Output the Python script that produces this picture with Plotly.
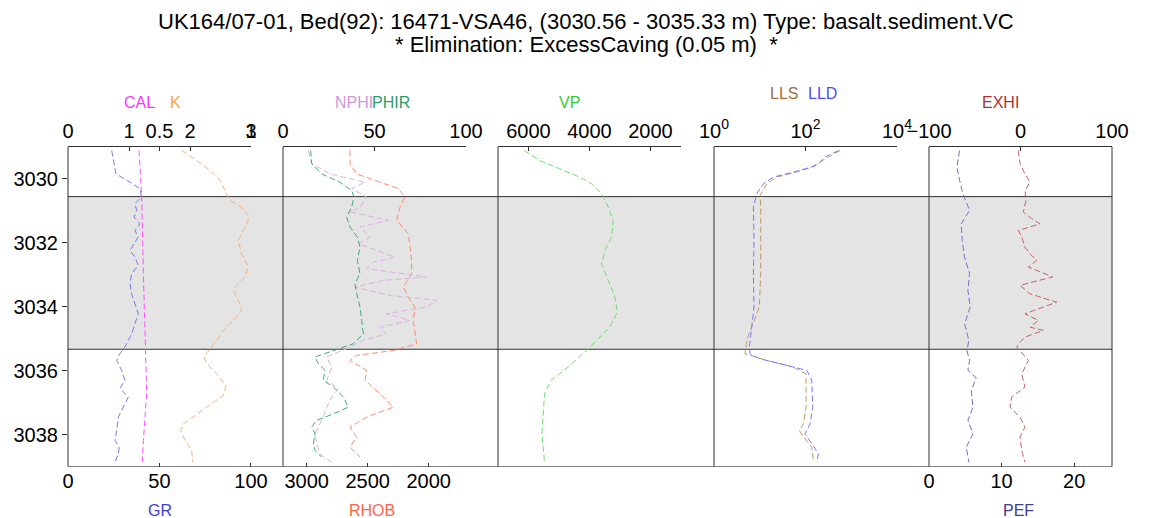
import plotly.graph_objects as go

W, H = 1173, 518


def px(x):
    return x / W


def py(y):
    return 1 - y / H


# ---------------- data (depth in m) ----------------
depth_gr = [3029.12, 3029.85, 3030.11, 3030.31, 3030.57, 3030.78, 3030.99, 3031.2, 3031.41, 3031.62,
            3031.82, 3032.03, 3032.24, 3032.45, 3032.71, 3032.97, 3033.28, 3033.6, 3033.91, 3034.22,
            3034.53, 3034.85, 3035.26, 3035.47, 3035.68, 3035.99, 3036.3, 3036.56, 3036.82, 3037.03,
            3037.45, 3037.87, 3038.18, 3038.39, 3038.6, 3038.86]
gr = [23.9, 26.2, 33.9, 39.3, 40.2, 36.6, 37.5, 36.1, 39.3, 36.6,
      38.4, 36.1, 33.9, 36.6, 38.4, 34.8, 33.9, 34.8, 36.6, 38.4,
      36.6, 34.8, 31.1, 28.4, 26.6, 29.3, 31.1, 28.4, 33.0, 31.1,
      27.5, 26.6, 25.7, 28.0, 27.5, 25.7]

depth_cal = [3029.12, 3030.57, 3032.97, 3035.05, 3036.7, 3038.18, 3038.86]
cal = [0.388, 0.403, 0.412, 0.421, 0.43, 0.412, 0.406]

depth_k = [3029.12, 3029.43, 3029.74, 3030.05, 3030.37, 3030.68, 3030.89, 3031.2, 3031.51, 3031.93,
           3032.35, 3032.76, 3033.07, 3033.39, 3033.6, 3033.91, 3034.12, 3034.43, 3034.74, 3035.05,
           3035.31, 3035.57, 3035.78, 3036.1, 3036.46, 3036.77, 3037.03, 3037.35, 3037.66, 3037.87,
           3038.18, 3038.49, 3038.86]
k = [1.863, 2.109, 2.328, 2.492, 2.574, 2.656, 2.847, 2.973, 2.902, 2.792,
     2.847, 2.956, 2.902, 2.738, 2.738, 2.82, 2.847, 2.71, 2.546, 2.437,
     2.328, 2.23, 2.273, 2.437, 2.59, 2.546, 2.355, 2.109, 1.891, 1.847,
     1.918, 2.027, 2.044]

depth_phir = [3029.12, 3029.53, 3029.85, 3030.11, 3030.37, 3030.57, 3030.89, 3031.2, 3031.51, 3031.82,
              3032.14, 3032.55, 3032.97, 3033.28, 3033.6, 3034.01, 3034.43, 3034.85, 3035.16, 3035.37,
              3035.57, 3035.78, 3035.99, 3036.3, 3036.51, 3036.82, 3037.14, 3037.35, 3037.55, 3037.76,
              3037.97, 3038.28, 3038.49, 3038.7]
phir = [15.1, 15.7, 21.1, 31.1, 37.5, 38.8, 37.5, 34.8, 36.6, 40.6,
        42.1, 40.6, 42.1, 39.3, 40.3, 42.1, 43.0, 43.9, 38.4, 27.5,
        17.5, 19.3, 23.0, 22.0, 27.5, 33.0, 35.7, 27.5, 18.4, 15.7,
        17.5, 16.6, 17.5, 21.1]

depth_nphi = [3029.12, 3029.53, 3029.85, 3030.11, 3030.31, 3030.57, 3030.89, 3031.04, 3031.3, 3031.51,
              3031.82, 3032.03, 3032.45, 3032.61, 3032.81, 3033.07, 3033.18, 3033.39, 3033.65, 3033.8,
              3034.01, 3034.22, 3034.43, 3034.64, 3034.85, 3035.05, 3035.31, 3035.57, 3035.89, 3036.3,
              3036.56, 3036.82, 3037.14, 3037.45, 3037.76, 3037.97, 3038.28, 3038.6, 3038.86]
nphi = [13.8, 15.7, 25.7, 44.8, 37.5, 45.7, 42.1, 36.6, 57.6, 42.1,
        47.5, 41.2, 61.2, 49.4, 45.7, 78.5, 54.8, 39.3, 58.5, 84.0,
        78.5, 56.6, 69.4, 53.0, 56.6, 43.9, 34.8, 23.9, 26.6, 23.9,
        30.2, 26.6, 23.9, 22.0, 19.3, 17.5, 18.4, 20.2, 26.6]

depth_rhob = [3029.12, 3029.53, 3029.85, 3030.11, 3030.31, 3030.57, 3030.89, 3031.3, 3031.72, 3032.14,
              3032.55, 3032.97, 3033.39, 3033.7, 3034.01, 3034.43, 3034.85, 3035.16, 3035.37, 3035.52,
              3035.68, 3035.99, 3036.3, 3036.72, 3037.14, 3037.45, 3037.76, 3038.07, 3038.39, 3038.7]
rhob = [2645, 2645, 2590, 2399, 2249, 2194, 2235, 2263, 2167, 2153,
        2140, 2140, 2208, 2167, 2112, 2126, 2112, 2099, 2290, 2590,
        2645, 2508, 2522, 2399, 2290, 2508, 2645, 2590, 2645, 2563]

depth_vp = [3029.12, 3029.43, 3029.69, 3029.95, 3030.16, 3030.47, 3030.89, 3031.3, 3031.82, 3032.24,
            3032.66, 3033.18, 3033.7, 3034.17, 3034.64, 3035.05, 3035.37, 3035.89, 3036.3, 3036.72,
            3037.35, 3037.97, 3038.86]
vp = [6132, 5638, 4979, 4320, 3935, 3605, 3385, 3221, 3276, 3496,
      3605, 3385, 3166, 3089, 3331, 3770, 4100, 4704, 5253, 5473,
      5528, 5561, 5473]

depth_lld = [3029.12, 3029.32, 3029.58, 3029.74, 3029.95, 3030.16, 3030.47, 3030.89, 3031.93, 3032.97,
             3034.01, 3034.64, 3035.26, 3035.47, 3035.63, 3035.78, 3035.99, 3036.3, 3037.14, 3037.66,
             3037.97, 3038.28, 3038.6, 3038.86]
lld = [525, 269, 177, 76, 19.9, 12.0, 8.6, 7.26, 7.5, 7.26,
       7.5, 6.67, 5.93, 6.14, 10.2, 27.8, 107, 137, 144, 126,
       98, 137, 192, 177]

depth_lls = [3029.12, 3029.32, 3029.64, 3029.79, 3029.95, 3030.16, 3030.52, 3030.89, 3031.93, 3032.97,
             3034.01, 3034.64, 3035.05, 3035.47, 3035.68, 3035.89, 3036.1, 3037.14, 3037.66, 3037.87,
             3038.07, 3038.39, 3038.8]
lls = [571, 318, 137, 64.4, 23.5, 14.2, 10.2, 10.5, 10.5, 10.5,
       9.8, 6.67, 5.19, 4.76, 14.2, 54.5, 103, 103, 90.2, 73.6,
       90.2, 137, 149]

depth_pef = [3029.12, 3029.64, 3030.05, 3030.47, 3030.99, 3031.41, 3031.93, 3032.45, 3032.97, 3033.49,
             3034.01, 3034.53, 3035.05, 3035.37, 3035.68, 3035.99, 3036.22, 3036.62, 3037.14, 3037.55,
             3037.97, 3038.39, 3038.7, 3038.86]
pef = [4.21, 3.84, 4.21, 4.67, 5.59, 4.44, 4.57, 4.9, 5.59, 5.36,
       5.68, 4.9, 5.49, 5.22, 5.59, 5.36, 6.5, 5.82, 6.05, 5.36,
       6.05, 5.13, 5.36, 5.49]

depth_exhi = [3029.12, 3029.53, 3029.85, 3030.11, 3030.37, 3030.68, 3031.04, 3031.25, 3031.41, 3031.62,
              3031.82, 3032.14, 3032.35, 3032.55, 3032.76, 3033.07, 3033.33, 3033.6, 3033.86, 3034.01,
              3034.22, 3034.43, 3034.64, 3034.74, 3034.95, 3035.11, 3035.26, 3035.68, 3036.1, 3036.51,
              3036.82, 3037.14, 3037.45, 3037.76, 3038.07, 3038.49, 3038.86]
exhi = [-2.4, -0.5, 4.9, 10.4, 4.9, 6.0, 3.1, 12.2, 21.3, -2.4,
        1.3, 4.9, 10.4, 17.7, 8.6, 35.2, -0.5, 10.4, 39.5, 25.1,
        4.9, 19.5, 10.4, 25.1, 4.9, -0.5, -4.2, 8.6, 1.3, 4.9,
        -9.7, -11.5, -0.5, 4.9, -0.5, 1.3, 4.9]

bed_top, bed_base = 3030.56, 3035.33
depth_ticks = [3030, 3032, 3034, 3036, 3038]

title_lines = ["UK164/07-01, Bed(92): 16471-VSA46, (3030.56 - 3035.33 m) Type: basalt.sediment.VC",
               "* Elimination: ExcessCaving (0.05 m)  *"]

# ---------------- figure ----------------
FONT = "Liberation Sans, Arial, sans-serif"
DASH = "6px,3px"

fig = go.Figure()


def add(x, y, xa, color):
    fig.add_trace(go.Scatter(x=x, y=y, xaxis=xa, yaxis="y", mode="lines",
                             line=dict(color=color, width=1, dash=DASH),
                             showlegend=False, hoverinfo="skip"))


add(k, depth_k, "x2", "#ffb070")
add(cal, depth_cal, "x3", "#ff50ff")
add(gr, depth_gr, "x", "#7878e8")
add(rhob, depth_rhob, "x4", "#ff8a70")
add(nphi, depth_nphi, "x5", "#dcb0e4")
add(phir, depth_phir, "x5", "#40a878")
add(vp, depth_vp, "x6", "#70dc70")
add(lls, depth_lls, "x7", "#c09868")
add(lld, depth_lld, "x7", "#7878ff")
add(pef, depth_pef, "x9", "#7070d0")
add(exhi, depth_exhi, "x8", "#c86060")

LINE = "#303030"
tickfont = dict(family=FONT, size=20, color="black")


def xax(dom, rng, side, vals, text=None, showline=False, overlay=None, typ="linear"):
    d = dict(domain=[px(dom[0]), px(dom[1])], range=rng, side=side, anchor="y",
             tickmode="array", tickvals=vals, ticks="inside", ticklen=4, tickcolor=LINE,
             showline=showline, linecolor=LINE, linewidth=1, showgrid=False, zeroline=False,
             tickfont=tickfont, type=typ, fixedrange=True, automargin=False)
    if text is not None:
        d["ticktext"] = text
    if overlay:
        d["overlaying"] = overlay
    return d


ydom = [py(466.7), py(146.7)]

fig.update_layout(
    width=W, height=H, autosize=False,
    margin=dict(l=0, r=0, t=0, b=0, pad=0),
    paper_bgcolor="white", plot_bgcolor="rgba(0,0,0,0)",
    xaxis=xax((68, 283), [0, 117.5], "bottom", [0, 50, 100]),
    xaxis2=xax((68, 251), [0, 3], "top", [0, 1, 2, 3], showline=True),
    xaxis3=xax((68, 251), [0, 1], "top", [0, 0.5, 1], text=["", "0.5", "1"], showline=True,
               overlay="x2"),
    xaxis4=xax((283, 498), [3194, 1432], "bottom", [3000, 2500, 2000]),
    xaxis5=xax((283, 466), [0, 100], "top", [0, 50, 100], showline=True),
    xaxis6=xax((498, 681), [7000, 1000], "top", [6000, 4000, 2000], showline=True),
    xaxis7=xax((714, 897), [0, 4], "top", [1, 100, 10000],
               text=["10<sup>0</sup>", "10<sup>2</sup>", "10<sup>4</sup>"], showline=True, typ="log"),
    xaxis8=xax((929, 1112), [-100, 100], "top", [-100, 0, 100], showline=True),
    xaxis9=xax((929, 1112), [0, 25.2], "bottom", [0, 10, 20]),
    yaxis=dict(domain=ydom, range=[3039.0, 3029.0], anchor="x", side="left",
               tickmode="array", tickvals=depth_ticks, ticks="outside", ticklen=5, tickcolor=LINE,
               showline=False, showgrid=False, zeroline=False, tickfont=tickfont, fixedrange=True,
               automargin=False),
    yaxis2=dict(domain=ydom, range=[3039.0, 3029.0], anchor="x8", side="right", overlaying="y",
                tickmode="array", tickvals=depth_ticks, ticks="outside", ticklen=5, tickcolor=LINE,
                showline=False, showgrid=False, zeroline=False, tickfont=tickfont, fixedrange=True,
                automargin=False),
)

shapes = [
    dict(type="rect", xref="paper", yref="y", x0=px(68), x1=px(1112), y0=bed_top, y1=bed_base,
         fillcolor="#e4e4e4", line=dict(width=0), layer="below"),
]
for d in (bed_top, bed_base):
    shapes.append(dict(type="line", xref="paper", yref="y", x0=px(68), x1=px(1112), y0=d, y1=d,
                       line=dict(color=LINE, width=1), layer="below"))
for xx in (68, 283, 498, 714, 929, 1112):
    shapes.append(dict(type="line", xref="paper", yref="y", x0=px(xx), x1=px(xx), y0=3029.0, y1=3039.0,
                       line=dict(color=LINE, width=1), layer="below"))
shapes.append(dict(type="line", xref="paper", yref="y", x0=px(68), x1=px(1112), y0=3039.0, y1=3039.0,
                   line=dict(color=LINE, width=1), layer="below"))
fig.update_layout(shapes=shapes)

ann = []
for i, (t, yc) in enumerate(zip(title_lines, (21, 44))):
    ann.append(dict(text=t, x=px(586), y=py(yc), xref="paper", yref="paper", showarrow=False,
                    xanchor="center", yanchor="middle", font=dict(family=FONT, size=22, color="black")))

labels = [
    ("CAL", 139, 102, "#ff33ff"), ("K", 175, 102, "#ffa040"),
    ("NPHI", 354, 102, "#cc99dd"), ("PHIR", 391, 102, "#2e9b6a"),
    ("VP", 569, 102, "#33cc33"),
    ("LLS", 784, 94, "#a07040"), ("LLD", 822, 94, "#4d4dff"),
    ("EXHI", 1000, 102, "#b03030"),
    ("GR", 160, 510, "#4040d0"), ("RHOB", 372, 510, "#ff6347"), ("PEF", 1018, 510, "#404090"),
]
for t, xc, yc, c in labels:
    ann.append(dict(text=t, x=px(xc), y=py(yc), xref="paper", yref="paper", showarrow=False,
                    xanchor="center", yanchor="middle", font=dict(family=FONT, size=16, color=c)))
fig.update_layout(annotations=ann)

fig.write_html("out.html")
